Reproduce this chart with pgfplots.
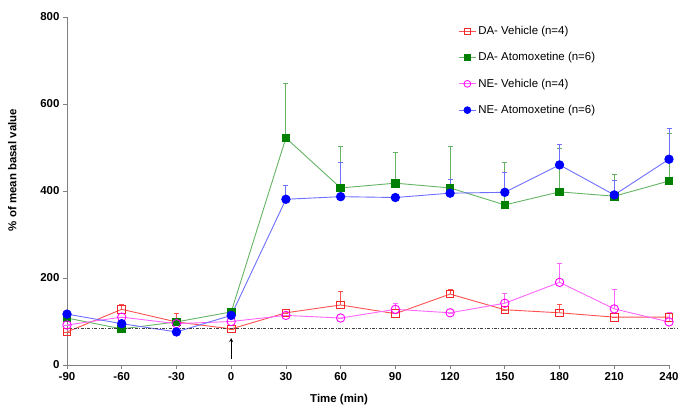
\documentclass[border=0pt]{standalone}
\usepackage{fontspec}
\setmainfont{Liberation Sans}
\usepackage{pgfplots}
\pgfplotsset{compat=1.18}
\definecolor{dvline}{RGB}{255,80,80}
\definecolor{dvmark}{RGB}{240,40,40}
\definecolor{daline}{RGB}{100,180,100}
\definecolor{damark}{RGB}{0,128,0}
\definecolor{nvline}{RGB}{255,100,255}
\definecolor{nvmark}{RGB}{255,0,255}
\definecolor{naline}{RGB}{110,110,255}
\definecolor{namark}{RGB}{0,0,255}

% time, mean, upper error
\pgfplotstableread{
t v e
-90 76 0
-60 128 12
-30 99 21
0 83 0
30 120 0
60 138 32
90 118 0
120 163 12
150 127 0
180 120 20
210 110 0
240 110 12
}\dvehicle
\pgfplotstableread{
t v e
-90 108 0
-60 83 0
-30 99 0
0 122 0
30 522 126
60 407 96
90 418 72
120 407 95
150 368 99
180 398 100
210 388 51
240 423 110
}\datomox
\pgfplotstableread{
t v e
-90 92 0
-60 110 0
-30 95 0
0 100 0
30 114 0
60 108 0
90 128 14
120 120 0
150 142 22
180 190 45
210 129 46
240 99 23
}\nvehicle
\pgfplotstableread{
t v e
-90 117 0
-60 95 0
-30 76 0
0 114 0
30 381 32
60 387 80
90 385 0
120 395 33
150 397 46
180 460 47
210 391 33
240 473 71
}\natomox

\begin{document}
\begin{tikzpicture}
\useasboundingbox (0,0) rectangle (680bp,412bp);
\begin{axis}[
    at={(67bp,47bp)}, anchor=south west,
    scale only axis, width=602bp, height=348bp,
    xmin=-90, xmax=240, ymin=0, ymax=800,
    axis lines*=left,
    axis line style={draw=gray, line width=0.8pt},
    xtick={-90,-60,...,240}, ytick={0,200,...,800},
    tick align=outside, major tick length=4bp,
    tick style={draw=gray, line width=0.8pt},
    /pgf/number format/assume math mode=true,
    tick label style={font=\fontsize{11.5}{13}\selectfont\bfseries},
    xlabel={Time (min)}, ylabel={\% of mean basal value},
    label style={font=\fontsize{11.5}{13}\selectfont\bfseries},
    xlabel style={at={(axis description cs:0.452,-0.075)}, anchor=north},
    ylabel style={at={(axis description cs:-0.078,0.56)}, anchor=south},
    clip=false,
    legend style={at={(rel axis cs:0.645,0.985)}, anchor=north west,
        draw=none, fill=none, font=\fontsize{11.5}{13}\selectfont,
        row sep=12.5bp},
    legend cell align=left,
    every axis plot/.append style={line width=0.9pt},
    error bars/error bar style={line width=0.9pt},
]
\addlegendimage{color=dvline, line width=0.8pt, mark=square, mark size=3.2bp, mark options={draw=dvmark, fill=none, solid}}
\addlegendentry{DA- Vehicle (n=4)}
\addlegendimage{color=daline, line width=0.8pt, mark=square*, mark size=3.2bp, mark options={draw=damark, fill=damark, solid}}
\addlegendentry{DA- Atomoxetine (n=6)}
\addlegendimage{color=nvline, line width=0.8pt, mark=o, mark size=3.4bp, mark options={draw=nvmark, fill=none, solid}}
\addlegendentry{NE- Vehicle (n=4)}
\addlegendimage{color=naline, line width=0.8pt, mark=*, mark size=3.4bp, mark options={draw=namark, fill=namark, solid}}
\addlegendentry{NE- Atomoxetine (n=6)}

\addplot[forget plot, color=dvline, mark=square, mark size=3.8bp,
    mark options={draw=dvmark, fill=none, solid},
    error bars/.cd, y dir=plus, y explicit, error mark=-,
    error mark options={rotate=90, mark size=2.5bp, draw=dvline}]
    table[x=t, y=v, y error=e] {\dvehicle};
\addplot[forget plot, color=daline, mark=square*, mark size=3.8bp,
    mark options={draw=damark, fill=damark, solid},
    error bars/.cd, y dir=plus, y explicit, error mark=-,
    error mark options={rotate=90, mark size=2.5bp, draw=daline}]
    table[x=t, y=v, y error=e] {\datomox};
\addplot[forget plot, color=nvline, mark=o, mark size=4.2bp,
    mark options={draw=nvmark, fill=none, solid},
    error bars/.cd, y dir=plus, y explicit, error mark=-,
    error mark options={rotate=90, mark size=2.5bp, draw=nvline}]
    table[x=t, y=v, y error=e] {\nvehicle};
\addplot[forget plot, color=naline, mark=*, mark size=4.2bp,
    mark options={draw=namark, fill=namark, solid},
    error bars/.cd, y dir=plus, y explicit, error mark=-,
    error mark options={rotate=90, mark size=2.5bp, draw=naline}]
    table[x=t, y=v, y error=e] {\natomox};
% basal reference line
\addplot[forget plot, color=black!75, line width=0.6pt, dash pattern=on 3pt off 1.5pt on 0.8pt off 1.5pt]
    coordinates {(-90,85) (245,85)};
\draw[-stealth, line width=0.8pt] (axis cs:0,14) -- (axis cs:0,62);
\end{axis}
\end{tikzpicture}
\end{document}
